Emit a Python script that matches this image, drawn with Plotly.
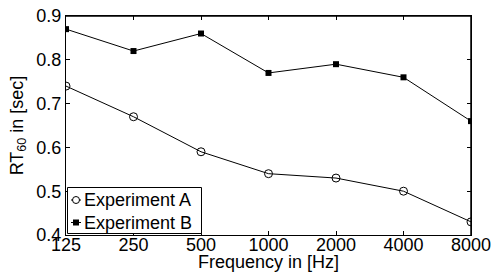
import plotly.graph_objects as go

freqs = [125, 250, 500, 1000, 2000, 4000, 8000]
tick_labels = ["125", "250", "500", "1000", "2000", "4000", "8000"]
y_ticks = [0.4, 0.5, 0.6, 0.7, 0.8, 0.9]
y_tick_labels = ["0.4", "0.5", "0.6", "0.7", "0.8", "0.9"]
exp_a = [0.74, 0.67, 0.59, 0.54, 0.53, 0.50, 0.43]
exp_b = [0.87, 0.82, 0.86, 0.77, 0.79, 0.76, 0.66]
series_names = ["Experiment A", "Experiment B"]

font = "Liberation Sans, Arial, Helvetica, sans-serif"

fig = go.Figure()
fig.add_trace(go.Scatter(x=freqs, y=exp_a, mode="lines+markers", name=series_names[0],
                         line=dict(color="black", width=1), showlegend=False,
                         marker=dict(symbol="circle-open", size=8, color="black", line=dict(width=1))))
fig.add_trace(go.Scatter(x=freqs, y=exp_b, mode="lines+markers", name=series_names[1],
                         line=dict(color="black", width=1), showlegend=False,
                         marker=dict(symbol="square", size=6, color="black")))

W, H = 494, 272
L, R, T, B = 66, 23, 16, 37
pw, ph = W - L - R, H - T - B

def px(x):
    return (x - L) / pw

def py(y):
    return (H - B - y) / ph

shapes = []
annotations = []
shapes.append(dict(type="rect", xref="paper", yref="paper",
                   x0=px(67.5), x1=px(201.5), y0=py(233.5), y1=py(187.5),
                   line=dict(color="black", width=1), fillcolor="white", layer="above"))
rows = [200, 222.5]
mx = px(76)
for i, (name, yy) in enumerate(zip(series_names, rows)):
    yp = py(yy)
    shapes.append(dict(type="line", xref="paper", yref="paper", xsizemode="pixel", ysizemode="pixel",
                       xanchor=mx, yanchor=yp, x0=-5, x1=5, y0=0, y1=0,
                       line=dict(color="black", width=1), layer="above"))
    if i == 0:
        shapes.append(dict(type="circle", xref="paper", yref="paper", xsizemode="pixel", ysizemode="pixel",
                           xanchor=mx, yanchor=yp, x0=-3.5, x1=3.5, y0=-3.5, y1=3.5,
                           line=dict(color="black", width=1), fillcolor="white", layer="above"))
    else:
        shapes.append(dict(type="rect", xref="paper", yref="paper", xsizemode="pixel", ysizemode="pixel",
                           xanchor=mx, yanchor=yp, x0=-3, x1=3, y0=-3, y1=3,
                           line=dict(color="black", width=0), fillcolor="black", layer="above"))
    annotations.append(dict(text=name, xref="paper", yref="paper", x=px(82), y=yp,
                            xanchor="left", yanchor="middle", showarrow=False,
                            font=dict(size=18, family=font, color="black")))

# top and right frame lines
shapes.append(dict(type="line", xref="paper", yref="paper", x0=0, x1=1, y0=1, y1=1,
                   line=dict(color="black", width=1.5), layer="above"))
shapes.append(dict(type="line", xref="paper", yref="paper", x0=1, x1=1, y0=0, y1=1,
                   line=dict(color="black", width=1.5), layer="above"))

fig.update_layout(
    width=W, height=H,
    margin=dict(l=L, r=R, t=T, b=B),
    paper_bgcolor="white", plot_bgcolor="white",
    font=dict(family=font, size=18, color="black"),
    showlegend=False,
    shapes=shapes, annotations=annotations,
)
fig.update_xaxes(type="log", range=[2.09691, 3.90309], tickvals=freqs, ticktext=tick_labels,
                 ticks="inside", ticklen=4, tickcolor="black", showline=True, linecolor="black",
                 linewidth=1, mirror="allticks", showgrid=False, zeroline=False, automargin=False,
                 tickfont=dict(size=18), ticklabelstandoff=-7,
                 title=dict(text="Frequency in [Hz]", font=dict(size=18), standoff=0))
fig.update_yaxes(range=[0.4, 0.9], tickvals=y_ticks, ticktext=y_tick_labels,
                 ticks="inside", ticklen=4, tickcolor="black", showline=True, linecolor="black",
                 linewidth=1, mirror="allticks", showgrid=False, zeroline=False, automargin=False,
                 tickfont=dict(size=18),
                 title=dict(text="RT<sub>60</sub> in [sec]", font=dict(size=18), standoff=8))

fig.write_html("out.html", config={"displayModeBar": False},
               post_script="document.body.style.margin='0';document.body.style.padding='0';")
